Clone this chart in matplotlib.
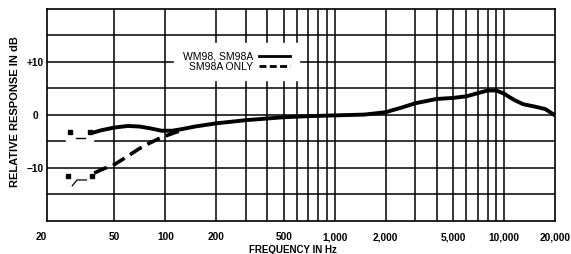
import matplotlib
matplotlib.use("Agg")
import matplotlib.pyplot as plt
from matplotlib.lines import Line2D
from matplotlib.transforms import ScaledTranslation

plt.rcParams['font.family'] = ['Liberation Sans', 'DejaVu Sans']

# Solid curve: WM98, SM98A
solid_freq = [37, 42, 50, 60, 70, 80, 95, 110, 125, 150, 200, 300, 500, 700, 1000,
              1500, 2000, 2500, 3000, 4000, 5000, 6000, 7000, 8000, 9000, 10000,
              11500, 13000, 15000, 17500, 20000]
solid_db = [-3.4, -2.9, -2.4, -2.1, -2.2, -2.5, -3.0, -3.0, -2.7, -2.2, -1.6, -1.0,
            -0.45, -0.25, -0.1, 0.05, 0.5, 1.4, 2.2, 3.0, 3.2, 3.5, 4.1, 4.6, 4.6,
            4.0, 2.8, 2.0, 1.6, 1.1, -0.1]

# Dashed curve: SM98A ONLY (low-frequency roll-off)
dash_freq = [38, 43, 50, 60, 70, 80, 90, 100, 115, 130]
dash_db = [-11.0, -10.2, -9.4, -7.8, -6.4, -5.4, -4.6, -4.0, -3.3, -2.8]

# Small extension marks left of each curve
solid_mark_freq = [27.3, 35.9]
solid_mark_db = [-3.3, -3.3]
solid_tick_freq = [29.7, 33.5]
solid_tick_db = [-4.4, -4.4]
dash_mark_freq = [26.6, 37.0]
dash_mark_db = [-11.5, -11.5]
dash_tick_freq = [28.2, 30.1, 34.2]
dash_tick_db = [-13.4, -12.3, -12.3]

xticks = [20, 50, 100, 200, 500, 1000, 2000, 5000, 10000, 20000]
xticklabels = ['20', '50', '100', '200', '500', '1,000', '2,000', '5,000', '10,000', '20,000']
yticks = [10, 0, -10]
yticklabels = ['+10', '0', '\u221210']
vgrid = [50, 100, 200, 300, 400, 500, 600, 700, 800, 900, 1000,
         2000, 3000, 4000, 5000, 6000, 7000, 8000, 9000, 10000]
hgrid = [-15, -10, -5, 0, 5, 10, 15]

fig = plt.figure(figsize=(5.71, 2.54), dpi=100)
ax = fig.add_axes([47/571, 1 - 220.7/254, 508/571, 211.7/254])
ax.set_xscale('log')
ax.set_xlim(20, 20000)
ax.set_ylim(-20, 20)

glw = 1.1
for f in vgrid:
    ax.axvline(f, color='black', lw=glw, zorder=1)
for h in hgrid:
    if h == -5:
        ax.plot([20, 25.6], [h, h], color='black', lw=glw, zorder=1)
        ax.plot([38.4, 20000], [h, h], color='black', lw=glw, zorder=1)
    else:
        ax.axhline(h, color='black', lw=glw, zorder=1)

ax.plot(solid_freq, solid_db, color='black', lw=2.8, solid_capstyle='round', zorder=3)
ax.plot(dash_freq, dash_db, color='black', lw=2.6, dashes=(3.8, 1.8), zorder=3)

ax.plot(solid_mark_freq, solid_mark_db, ls='none', marker='s', ms=2.6, color='black', zorder=3)
ax.plot(solid_tick_freq, solid_tick_db, color='black', lw=1.0, zorder=3)
ax.plot(dash_mark_freq, dash_mark_db, ls='none', marker='s', ms=2.6, color='black', zorder=3)
ax.plot(dash_tick_freq, dash_tick_db, color='black', lw=0.9, zorder=3)

for s in ax.spines.values():
    s.set_linewidth(1.2)

ax.set_xticks(xticks)
ax.set_xticklabels(xticklabels, fontsize=7.3, fontweight='bold')
ax.xaxis.set_minor_locator(matplotlib.ticker.NullLocator())
ax.set_yticks(yticks)
ax.set_yticklabels(yticklabels, fontsize=7.3, fontweight='bold')
ax.tick_params(axis='both', length=0)
ax.tick_params(axis='x', pad=8.2)
ax.tick_params(axis='y', pad=8.3)
for lbl in ax.get_yticklabels():
    lbl.set_ha('center')
first = ax.get_xticklabels()[0]
first.set_transform(first.get_transform() + ScaledTranslation(-6/100, 0, fig.dpi_scale_trans))

handles = [Line2D([], [], color='black', lw=2.0),
           Line2D([], [], color='black', lw=2.0, dashes=(2.5, 1.2))]
leg = ax.legend(handles, ['WM98, SM98A', 'SM98A ONLY'], loc='center',
                bbox_to_anchor=(0.373, 0.752), markerfirst=False, frameon=True,
                fontsize=7.5, handlelength=3.0, labelspacing=0.05, handletextpad=0.6,
                borderpad=0.8, borderaxespad=0, fancybox=False)
leg.get_frame().set_facecolor('white')
leg.get_frame().set_edgecolor('white')
leg.get_frame().set_alpha(1)
leg.set_zorder(2)

fig.text(15/571, 1 - 112/254, 'RELATIVE RESPONSE IN dB', rotation=90,
         ha='center', va='center', fontsize=8, fontweight='bold')
fig.text(293/571, 1 - 250/254, 'FREQUENCY IN Hz', ha='center', va='center',
         fontsize=7, fontweight='bold')

fig.savefig('out.png', dpi=100)
